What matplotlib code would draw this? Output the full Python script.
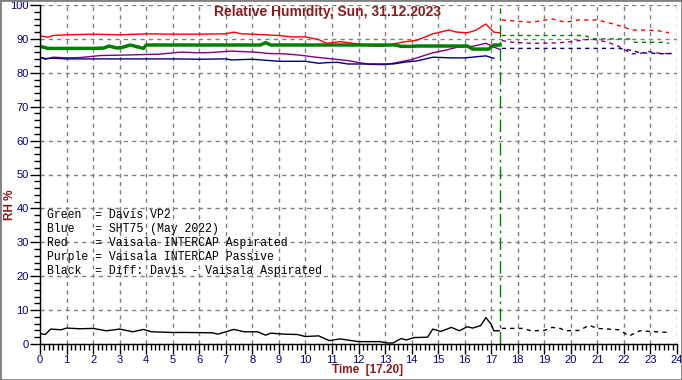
import matplotlib
matplotlib.use("Agg")
import matplotlib.pyplot as plt
from matplotlib.patches import Rectangle
from matplotlib.ticker import MultipleLocator

# solid part: today up to 17:20, dashed part: rest of the previous day
red_t = [0, 0.3, 0.5, 1, 2, 3, 4, 5, 6, 7, 7.3, 7.6, 8, 9, 9.5, 10, 10.5, 10.8, 11.3, 12,
         12.5, 12.9, 13.3, 13.7, 14.2, 14.8, 15.4, 15.7, 16.1, 16.4, 16.8, 17.1, 17.33]
red_v = [90.9, 90.5, 91.0, 91.2, 91.4, 91.2, 91.5, 91.4, 91.4, 91.5, 92.0, 91.5, 91.4, 91.0, 90.6,
         90.6, 89.8, 88.7, 89.2, 88.5, 87.9, 87.8, 88.5, 89.1, 89.6, 91.5, 92.6, 92.0, 91.8, 92.5,
         94.4, 92.0, 91.8]
red_prev_t = [17.4, 18, 18.5, 19, 19.3, 19.8, 20.3, 21, 21.5, 22, 22.3, 22.8, 23.3, 23.7]
red_prev_v = [95.6, 95.2, 94.9, 95.5, 95.9, 94.9, 95.6, 95.6, 94.6, 93.5, 92.6, 92.6, 92.4, 91.8]

green_t = [0, 0.3, 1, 2, 2.4, 2.6, 2.9, 3.1, 3.4, 3.7, 3.9, 4.0, 8.3, 8.5, 8.7, 13.4, 13.6,
           14.0, 14.2, 16.1, 16.3, 16.9, 17.1, 17.33]
green_v = [87.8, 87.2, 87.2, 87.2, 87.3, 87.9, 87.3, 87.5, 88.2, 87.6, 87.2, 88.2, 88.2, 88.9,
           88.2, 88.2, 87.8, 87.8, 87.9, 87.9, 87.0, 87.0, 88.2, 88.2]
green_prev_t = [17.4, 20.5, 20.7, 20.9, 22.2, 22.4, 23.6, 23.7]
green_prev_v = [91.0, 91.0, 90.5, 90.0, 90.0, 89.0, 89.0, 88.6]

purple_t = [0, 0.2, 0.5, 1, 1.5, 2.3, 3, 3.5, 4.5, 5.3, 6, 6.5, 7.2, 8.1, 8.6, 9.2, 9.8, 10.4,
            11, 11.6, 12.4, 13, 13.5, 14, 14.8, 15.3, 15.7, 16.3, 16.8, 17.1, 17.33]
purple_v = [84.6, 84.0, 84.6, 84.4, 84.5, 85.1, 85.2, 85.3, 85.5, 86.1, 85.9, 86.0, 86.4, 86.1,
            85.7, 85.6, 85.2, 84.6, 84.1, 83.6, 82.5, 82.4, 83.1, 83.9, 85.9, 86.7, 87.5, 87.8,
            88.7, 87.6, 86.9]
purple_prev_t = [17.4, 17.8, 18.5, 19.5, 20, 20.8, 21.4, 21.8, 22.3, 22.6, 22.9, 23.3, 23.8]
purple_prev_v = [89.5, 89.0, 88.7, 88.8, 89.2, 90.0, 89.0, 87.8, 85.6, 85.7, 86.3, 85.8, 85.6]

blue_t = [0, 0.2, 0.5, 1, 2, 3, 4, 5, 6, 7, 7.2, 8, 9, 10, 10.5, 10.8, 11.2, 11.6, 12.5, 13.3,
          13.8, 14.2, 14.8, 15.5, 16, 16.8, 17.0, 17.1]
blue_v = [84.6, 84.2, 84.3, 84.1, 84.1, 84.1, 84.1, 84.1, 84.0, 84.1, 83.8, 84.0, 83.4, 83.4,
          82.8, 83.0, 83.1, 82.6, 82.6, 82.6, 83.2, 83.5, 84.6, 84.4, 84.4, 85.0, 84.5, 84.3]
blue_prev_t = [17.4, 21.8, 22.3, 22.6, 23, 23.5, 23.8]
blue_prev_v = [87.2, 87.2, 86.6, 85.9, 85.8, 85.6, 85.7]

diff_t = [0, 0.2, 0.4, 0.8, 1, 1.5, 2, 2.5, 3, 3.5, 3.9, 4.2, 5, 5.5, 6.5, 6.7, 7, 7.3, 7.7, 8.2,
          8.5, 8.7, 9.2, 9.7, 10, 10.5, 10.9, 11.3, 12, 12.8, 13.1, 13.3, 13.6, 13.8, 14.1, 14.6,
          14.8, 15.1, 15.5, 15.8, 16.1, 16.3, 16.6, 16.8, 17.0, 17.1, 17.3]
diff_v = [3.1, 2.8, 4.4, 4.2, 4.7, 4.5, 4.6, 3.9, 4.4, 3.6, 4.3, 3.6, 3.4, 3.4, 3.3, 2.9, 3.6,
          4.3, 3.6, 3.6, 2.6, 3.2, 2.9, 2.8, 2.2, 2.4, 1.0, 1.5, 0.7, 0.7, 0.3, 0.3, 1.6, 1.2, 1.9,
          2.0, 4.4, 3.7, 4.9, 3.9, 5.1, 4.7, 5.4, 7.8, 5.8, 3.9, 3.9]
diff_prev_t = [17.4, 18.2, 18.5, 19, 19.3, 19.6, 19.8, 20.3, 20.7, 21.0, 21.8, 22.2, 22.6, 23, 23.7]
diff_prev_v = [4.6, 4.6, 3.9, 4.0, 4.9, 4.6, 3.9, 4.0, 5.5, 4.6, 4.2, 2.4, 3.9, 3.7, 3.4]

now_hour = 17 + 20 / 60

legend_lines = [
    "Green  = Davis VP2",
    "Blue   = SHT75 (May 2022)",
    "Red    = Vaisala INTERCAP Aspirated",
    "Purple = Vaisala INTERCAP Passive",
    "Black  = Diff: Davis - Vaisala Aspirated",
]

TITLE_COL = "#8b1a1a"
TICK_COL = "#000080"


def main():
    plt.rcParams["font.family"] = ["Liberation Sans", "DejaVu Sans"]
    fig = plt.figure(figsize=(6.82, 3.8), dpi=100)
    ax = fig.add_axes([40 / 682, 36 / 380, 637 / 682, 339 / 380])

    ax.set_xlim(0, 24)
    ax.set_ylim(0, 100)

    dash = (0, (3, 3))
    ax.plot(red_t, red_v, color="#ff0000", lw=1)
    ax.plot(red_prev_t, red_prev_v, color="#ff0000", lw=1, ls=dash)
    ax.plot(purple_t, purple_v, color="#800080", lw=1)
    ax.plot(purple_prev_t, purple_prev_v, color="#800080", lw=1, ls=dash)
    ax.plot(blue_t, blue_v, color="#000080", lw=1)
    ax.plot(blue_prev_t, blue_prev_v, color="#000080", lw=1, ls=dash)
    ax.plot(green_t, green_v, color="#008000", lw=2.5)
    ax.plot(green_prev_t, green_prev_v, color="#008000", lw=1, ls=dash)
    ax.plot(diff_t, diff_v, color="black", lw=1)
    ax.plot(diff_prev_t, diff_prev_v, color="black", lw=1, ls=dash)

    ax.axvline(now_hour, ymax=0.99, color="#008000", lw=1, ls=(0, (9, 3, 2, 3)))

    ax.xaxis.set_major_locator(MultipleLocator(1))
    ax.xaxis.set_minor_locator(MultipleLocator(1 / 6))
    ax.yaxis.set_major_locator(MultipleLocator(10))
    ax.yaxis.set_minor_locator(MultipleLocator(2))
    ax.grid(True, which="major", color="#808080", lw=1, ls=(0, (3, 3)))
    ax.set_axisbelow(True)

    for s in ("top", "right"):
        ax.spines[s].set_visible(False)
    for s in ("left", "bottom"):
        ax.spines[s].set_color("black")
        ax.spines[s].set_linewidth(1)

    ax.tick_params(which="major", length=7, width=1, color="black",
                   labelsize=8, labelcolor=TICK_COL, pad=1)
    ax.tick_params(which="minor", length=4, width=1, color="black")

    for i, line in enumerate(legend_lines):
        ax.text(0.25, 38 - i * 4.15, line, family="Liberation Mono", fontsize=8.3,
                color="black", va="center", ha="left")

    fig.text(328 / 682, 368 / 380, "Relative Humidity, Sun, 31.12.2023", ha="center",
             va="center", fontsize=10, fontweight="bold", color=TITLE_COL)
    fig.text(368 / 682, 10 / 380, "Time  [17.20]", ha="center", va="center",
             fontsize=8.5, fontweight="bold", color=TITLE_COL)
    fig.text(10 / 682, 175 / 380, "RH %", ha="center", va="center", rotation=90,
             fontsize=8.5, fontweight="bold", color=TITLE_COL)

    fig.patches.append(Rectangle((0, 0), 1, 1, transform=fig.transFigure, fill=False,
                                 edgecolor="#808080", lw=2))

    fig.savefig("out.png", dpi=100)


if __name__ == "__main__":
    main()
